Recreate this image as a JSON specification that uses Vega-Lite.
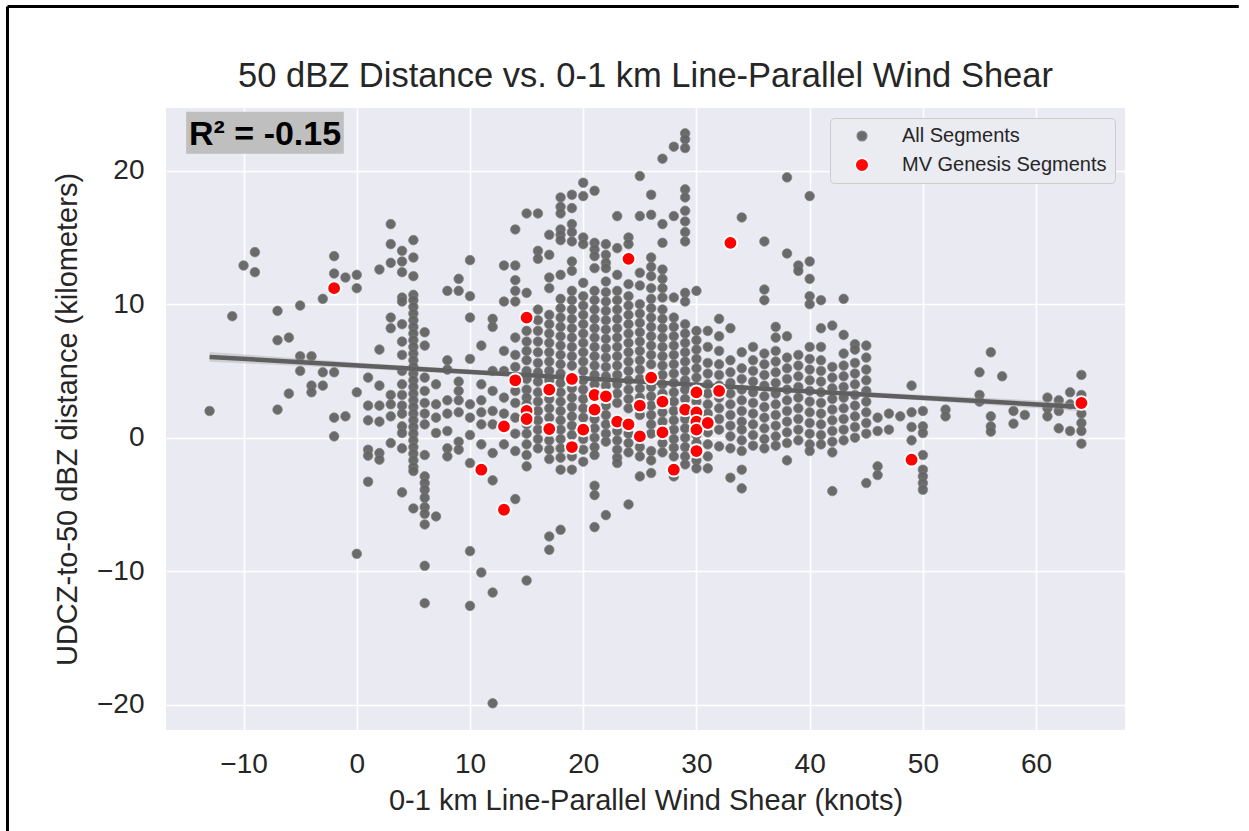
{
  "$schema": "https://vega.github.io/schema/vega-lite/v6.json",
  "width": 959,
  "height": 622,
  "autosize": {"type": "none"},
  "padding": {"left": 166, "top": 108, "right": 124, "bottom": 101},
  "background": "white",
  "title": {
    "text": "50 dBZ Distance vs. 0-1 km Line-Parallel Wind Shear",
    "font": "Liberation Sans",
    "fontSize": 34.5,
    "fontWeight": "normal",
    "color": "#262626",
    "anchor": "middle",
    "frame": "group",
    "baseline": "alphabetic",
    "offset": -116
  },
  "datasets": {
    "all": [
      {"shear":-13,"dist":2.0},
      {"shear":-11,"dist":9.1},
      {"shear":-10,"dist":12.9},
      {"shear":-9,"dist":13.9},{"shear":-9,"dist":12.4},
      {"shear":-7,"dist":9.5},{"shear":-7,"dist":7.3},{"shear":-7,"dist":2.1},
      {"shear":-6,"dist":7.5},{"shear":-6,"dist":3.3},
      {"shear":-5,"dist":9.9},{"shear":-5,"dist":6.1},{"shear":-5,"dist":5.0},
      {"shear":-4,"dist":6.1},{"shear":-4,"dist":3.9},{"shear":-4,"dist":3.4},
      {"shear":-3,"dist":10.4},{"shear":-3,"dist":4.9},{"shear":-3,"dist":3.9},
      {"shear":-2,"dist":13.6},{"shear":-2,"dist":12.3},{"shear":-2,"dist":4.9},{"shear":-2,"dist":1.5},{"shear":-2,"dist":0.1},
      {"shear":-1,"dist":12.0},{"shear":-1,"dist":1.6},
      {"shear":0,"dist":12.2},{"shear":0,"dist":11.2},{"shear":0,"dist":3.4},{"shear":0,"dist":-8.7},
      {"shear":1,"dist":4.5},{"shear":1,"dist":2.4},{"shear":1,"dist":1.3},{"shear":1,"dist":-0.9},{"shear":1,"dist":-1.35},{"shear":1,"dist":-3.3},
      {"shear":2,"dist":12.6},{"shear":2,"dist":6.6},{"shear":2,"dist":3.9},{"shear":2,"dist":2.4},{"shear":2,"dist":1.2},{"shear":2,"dist":-1.15},{"shear":2,"dist":-1.65},
      {"shear":3,"dist":16.0},{"shear":3,"dist":14.5},{"shear":3,"dist":13.1},{"shear":3,"dist":9.0},{"shear":3,"dist":8.2},{"shear":3,"dist":3.2},{"shear":3,"dist":2.5},{"shear":3,"dist":1.6},{"shear":3,"dist":-0.4},
      {"shear":4,"dist":14.0},{"shear":4,"dist":13.2},{"shear":4,"dist":12.4},{"shear":4,"dist":10.5},{"shear":4,"dist":10.2},{"shear":4,"dist":8.5},{"shear":4,"dist":7.2},{"shear":4,"dist":6.2},{"shear":4,"dist":5.0},{"shear":4,"dist":4.0},{"shear":4,"dist":3.2},{"shear":4,"dist":2.4},{"shear":4,"dist":1.8},{"shear":4,"dist":0.85},{"shear":4,"dist":0.35},{"shear":4,"dist":-0.8},{"shear":4,"dist":-4.1},
      {"shear":5,"dist":14.8},{"shear":5,"dist":13.5},{"shear":5,"dist":12.1},{"shear":5,"dist":10.7},{"shear":5,"dist":10.3},{"shear":5,"dist":9.8},{"shear":5,"dist":9.3},{"shear":5,"dist":8.8},{"shear":5,"dist":8.3},{"shear":5,"dist":7.8},{"shear":5,"dist":7.3},{"shear":5,"dist":6.8},{"shear":5,"dist":6.3},{"shear":5,"dist":5.8},{"shear":5,"dist":5.3},{"shear":5,"dist":4.8},{"shear":5,"dist":4.3},{"shear":5,"dist":3.8},{"shear":5,"dist":3.3},{"shear":5,"dist":2.8},{"shear":5,"dist":2.3},{"shear":5,"dist":1.8},{"shear":5,"dist":1.3},{"shear":5,"dist":0.8},{"shear":5,"dist":0.3},{"shear":5,"dist":-0.2},{"shear":5,"dist":-0.7},{"shear":5,"dist":-1.2},{"shear":5,"dist":-1.7},{"shear":5,"dist":-2.2},{"shear":5,"dist":-2.5},{"shear":5,"dist":-5.3},
      {"shear":6,"dist":7.9},{"shear":6,"dist":6.9},{"shear":6,"dist":4.5},{"shear":6,"dist":3.5},{"shear":6,"dist":2.6},{"shear":6,"dist":1.8},{"shear":6,"dist":1.0},{"shear":6,"dist":-1.3},{"shear":6,"dist":-2.9},{"shear":6,"dist":-3.4},{"shear":6,"dist":-3.9},{"shear":6,"dist":-4.5},{"shear":6,"dist":-5.2},{"shear":6,"dist":-5.7},{"shear":6,"dist":-6.5},{"shear":6,"dist":-9.6},{"shear":6,"dist":-12.4},
      {"shear":7,"dist":4.0},{"shear":7,"dist":2.5},{"shear":7,"dist":1.5},{"shear":7,"dist":0.35},{"shear":7,"dist":-5.9},
      {"shear":8,"dist":11.0},{"shear":8,"dist":5.8},{"shear":8,"dist":5.1},{"shear":8,"dist":2.8},{"shear":8,"dist":1.8},{"shear":8,"dist":0.5},{"shear":8,"dist":-0.8},{"shear":8,"dist":-1.4},
      {"shear":9,"dist":11.9},{"shear":9,"dist":11.0},{"shear":9,"dist":4.2},{"shear":9,"dist":3.5},{"shear":9,"dist":2.8},{"shear":9,"dist":1.9},{"shear":9,"dist":-0.3},{"shear":9,"dist":-0.9},
      {"shear":10,"dist":13.3},{"shear":10,"dist":10.6},{"shear":10,"dist":9.0},{"shear":10,"dist":5.9},{"shear":10,"dist":2.5},{"shear":10,"dist":1.5},{"shear":10,"dist":0.2},{"shear":10,"dist":-1.9},{"shear":10,"dist":-8.5},{"shear":10,"dist":-12.6},
      {"shear":11,"dist":6.9},{"shear":11,"dist":4.0},{"shear":11,"dist":2.8},{"shear":11,"dist":1.9},{"shear":11,"dist":1.0},{"shear":11,"dist":-0.5},{"shear":11,"dist":-10.1},
      {"shear":12,"dist":8.9},{"shear":12,"dist":8.3},{"shear":12,"dist":5.0},{"shear":12,"dist":3.5},{"shear":12,"dist":2.0},{"shear":12,"dist":1.0},{"shear":12,"dist":-1.15},{"shear":12,"dist":-3.2},{"shear":12,"dist":-11.6},{"shear":12,"dist":-19.9},
      {"shear":13,"dist":12.9},{"shear":13,"dist":10.2},{"shear":13,"dist":6.5},{"shear":13,"dist":5.0},{"shear":13,"dist":3.0},{"shear":13,"dist":1.8},{"shear":13,"dist":-0.5},
      {"shear":14,"dist":15.6},{"shear":14,"dist":12.9},{"shear":14,"dist":11.8},{"shear":14,"dist":11.0},{"shear":14,"dist":10.2},{"shear":14,"dist":7.5},{"shear":14,"dist":6.2},{"shear":14,"dist":5.3},{"shear":14,"dist":3.5},{"shear":14,"dist":2.6},{"shear":14,"dist":1.5},{"shear":14,"dist":0.3},{"shear":14,"dist":-1.0},{"shear":14,"dist":-4.6},
      {"shear":15,"dist":16.8},{"shear":15,"dist":10.85},{"shear":15,"dist":8.0},{"shear":15,"dist":7.2},{"shear":15,"dist":6.5},{"shear":15,"dist":5.8},{"shear":15,"dist":5.0},{"shear":15,"dist":4.4},{"shear":15,"dist":3.6},{"shear":15,"dist":3.0},{"shear":15,"dist":2.5},{"shear":15,"dist":1.0},{"shear":15,"dist":0.3},{"shear":15,"dist":-0.5},{"shear":15,"dist":-1.3},{"shear":15,"dist":-2.15},{"shear":15,"dist":-10.7},
      {"shear":16,"dist":16.8},{"shear":16,"dist":14.0},{"shear":16,"dist":13.4},{"shear":16,"dist":9.6},{"shear":16,"dist":8.8},{"shear":16,"dist":8.0},{"shear":16,"dist":7.2},{"shear":16,"dist":6.4},{"shear":16,"dist":5.6},{"shear":16,"dist":4.9},{"shear":16,"dist":4.2},{"shear":16,"dist":3.4},{"shear":16,"dist":2.7},{"shear":16,"dist":2.0},{"shear":16,"dist":1.3},{"shear":16,"dist":0.6},{"shear":16,"dist":-0.1},{"shear":16,"dist":-0.8},
      {"shear":17,"dist":15.2},{"shear":17,"dist":13.7},{"shear":17,"dist":12.0},{"shear":17,"dist":11.2},{"shear":17,"dist":9.2},{"shear":17,"dist":8.5},{"shear":17,"dist":7.8},{"shear":17,"dist":7.1},{"shear":17,"dist":6.4},{"shear":17,"dist":5.7},{"shear":17,"dist":5.0},{"shear":17,"dist":4.3},{"shear":17,"dist":2.9},{"shear":17,"dist":2.2},{"shear":17,"dist":1.5},{"shear":17,"dist":-0.2},{"shear":17,"dist":-0.9},{"shear":17,"dist":-1.6},{"shear":17,"dist":-7.4},{"shear":17,"dist":-8.4},
      {"shear":18,"dist":18.0},{"shear":18,"dist":17.3},{"shear":18,"dist":16.8},{"shear":18,"dist":15.6},{"shear":18,"dist":15.2},{"shear":18,"dist":14.8},{"shear":18,"dist":12.2},{"shear":18,"dist":10.4},{"shear":18,"dist":9.7},{"shear":18,"dist":9.0},{"shear":18,"dist":8.3},{"shear":18,"dist":7.6},{"shear":18,"dist":6.9},{"shear":18,"dist":6.2},{"shear":18,"dist":5.5},{"shear":18,"dist":4.8},{"shear":18,"dist":4.1},{"shear":18,"dist":3.4},{"shear":18,"dist":2.7},{"shear":18,"dist":2.0},{"shear":18,"dist":1.3},{"shear":18,"dist":0.6},{"shear":18,"dist":-0.1},{"shear":18,"dist":-0.8},{"shear":18,"dist":-1.5},{"shear":18,"dist":-2.4},{"shear":18,"dist":-6.9},
      {"shear":19,"dist":18.2},{"shear":19,"dist":17.2},{"shear":19,"dist":16.0},{"shear":19,"dist":15.4},{"shear":19,"dist":14.7},{"shear":19,"dist":13.2},{"shear":19,"dist":12.5},{"shear":19,"dist":11.0},{"shear":19,"dist":10.3},{"shear":19,"dist":9.6},{"shear":19,"dist":8.9},{"shear":19,"dist":8.2},{"shear":19,"dist":7.5},{"shear":19,"dist":6.8},{"shear":19,"dist":6.1},{"shear":19,"dist":5.4},{"shear":19,"dist":3.7},{"shear":19,"dist":3.0},{"shear":19,"dist":2.3},{"shear":19,"dist":1.6},{"shear":19,"dist":0.9},{"shear":19,"dist":0.2},{"shear":19,"dist":-1.4},{"shear":19,"dist":-2.4},
      {"shear":20,"dist":19.1},{"shear":20,"dist":18.1},{"shear":20,"dist":15.0},{"shear":20,"dist":14.5},{"shear":20,"dist":11.6},{"shear":20,"dist":10.6},{"shear":20,"dist":9.9},{"shear":20,"dist":9.2},{"shear":20,"dist":8.5},{"shear":20,"dist":7.8},{"shear":20,"dist":7.1},{"shear":20,"dist":6.4},{"shear":20,"dist":5.7},{"shear":20,"dist":5.0},{"shear":20,"dist":4.3},{"shear":20,"dist":3.6},{"shear":20,"dist":2.9},{"shear":20,"dist":2.2},{"shear":20,"dist":1.5},{"shear":20,"dist":-0.1},{"shear":20,"dist":-0.9},{"shear":20,"dist":-1.8},
      {"shear":21,"dist":18.5},{"shear":21,"dist":14.6},{"shear":21,"dist":14.1},{"shear":21,"dist":13.6},{"shear":21,"dist":12.7},{"shear":21,"dist":11.0},{"shear":21,"dist":10.3},{"shear":21,"dist":9.6},{"shear":21,"dist":8.9},{"shear":21,"dist":8.2},{"shear":21,"dist":7.5},{"shear":21,"dist":6.8},{"shear":21,"dist":6.1},{"shear":21,"dist":5.4},{"shear":21,"dist":4.7},{"shear":21,"dist":4.0},{"shear":21,"dist":1.4},{"shear":21,"dist":0.7},{"shear":21,"dist":0.0},{"shear":21,"dist":-0.7},{"shear":21,"dist":-1.3},{"shear":21,"dist":-3.6},{"shear":21,"dist":-4.3},{"shear":21,"dist":-6.7},
      {"shear":22,"dist":14.5},{"shear":22,"dist":13.7},{"shear":22,"dist":13.1},{"shear":22,"dist":12.7},{"shear":22,"dist":11.7},{"shear":22,"dist":10.9},{"shear":22,"dist":10.2},{"shear":22,"dist":9.5},{"shear":22,"dist":8.8},{"shear":22,"dist":8.1},{"shear":22,"dist":7.4},{"shear":22,"dist":6.7},{"shear":22,"dist":6.0},{"shear":22,"dist":5.3},{"shear":22,"dist":4.6},{"shear":22,"dist":3.9},{"shear":22,"dist":2.4},{"shear":22,"dist":1.7},{"shear":22,"dist":1.0},{"shear":22,"dist":0.3},{"shear":22,"dist":-0.3},{"shear":22,"dist":-5.8},
      {"shear":23,"dist":16.6},{"shear":23,"dist":14.2},{"shear":23,"dist":12.2},{"shear":23,"dist":11.0},{"shear":23,"dist":10.3},{"shear":23,"dist":9.6},{"shear":23,"dist":8.9},{"shear":23,"dist":8.2},{"shear":23,"dist":7.5},{"shear":23,"dist":6.8},{"shear":23,"dist":6.1},{"shear":23,"dist":5.4},{"shear":23,"dist":4.7},{"shear":23,"dist":4.0},{"shear":23,"dist":3.3},{"shear":23,"dist":2.6},{"shear":23,"dist":0.5},{"shear":23,"dist":-0.2},{"shear":23,"dist":-0.9},{"shear":23,"dist":-1.5},{"shear":23,"dist":-1.9},
      {"shear":24,"dist":15.0},{"shear":24,"dist":14.5},{"shear":24,"dist":11.5},{"shear":24,"dist":10.6},{"shear":24,"dist":9.9},{"shear":24,"dist":9.2},{"shear":24,"dist":8.5},{"shear":24,"dist":7.8},{"shear":24,"dist":7.1},{"shear":24,"dist":6.4},{"shear":24,"dist":5.7},{"shear":24,"dist":5.0},{"shear":24,"dist":4.3},{"shear":24,"dist":3.6},{"shear":24,"dist":2.9},{"shear":24,"dist":2.2},{"shear":24,"dist":0.3},{"shear":24,"dist":-0.4},{"shear":24,"dist":-1.1},{"shear":24,"dist":-5.0},
      {"shear":25,"dist":19.6},{"shear":25,"dist":16.6},{"shear":25,"dist":12.35},{"shear":25,"dist":11.4},{"shear":25,"dist":10.0},{"shear":25,"dist":9.3},{"shear":25,"dist":8.6},{"shear":25,"dist":7.9},{"shear":25,"dist":7.2},{"shear":25,"dist":6.5},{"shear":25,"dist":5.8},{"shear":25,"dist":5.1},{"shear":25,"dist":4.4},{"shear":25,"dist":3.7},{"shear":25,"dist":3.0},{"shear":25,"dist":1.7},{"shear":25,"dist":-0.7},{"shear":25,"dist":-1.4},{"shear":25,"dist":-2.9},
      {"shear":26,"dist":18.2},{"shear":26,"dist":16.7},{"shear":26,"dist":13.5},{"shear":26,"dist":12.8},{"shear":26,"dist":12.1},{"shear":26,"dist":11.2},{"shear":26,"dist":10.4},{"shear":26,"dist":9.7},{"shear":26,"dist":9.0},{"shear":26,"dist":8.3},{"shear":26,"dist":7.6},{"shear":26,"dist":6.9},{"shear":26,"dist":6.2},{"shear":26,"dist":5.5},{"shear":26,"dist":3.8},{"shear":26,"dist":3.1},{"shear":26,"dist":2.4},{"shear":26,"dist":1.7},{"shear":26,"dist":1.0},{"shear":26,"dist":0.3},{"shear":26,"dist":-1.0},{"shear":26,"dist":-1.7},{"shear":26,"dist":-2.65},
      {"shear":27,"dist":20.9},{"shear":27,"dist":16.0},{"shear":27,"dist":14.6},{"shear":27,"dist":12.6},{"shear":27,"dist":11.9},{"shear":27,"dist":11.2},{"shear":27,"dist":10.5},{"shear":27,"dist":9.6},{"shear":27,"dist":8.9},{"shear":27,"dist":8.2},{"shear":27,"dist":7.5},{"shear":27,"dist":6.8},{"shear":27,"dist":6.1},{"shear":27,"dist":5.4},{"shear":27,"dist":4.7},{"shear":27,"dist":4.0},{"shear":27,"dist":3.3},{"shear":27,"dist":1.9},{"shear":27,"dist":1.2},{"shear":27,"dist":-0.4},{"shear":27,"dist":-1.1},
      {"shear":28,"dist":21.8},{"shear":28,"dist":16.6},{"shear":28,"dist":10.5},{"shear":28,"dist":9.0},{"shear":28,"dist":8.3},{"shear":28,"dist":7.6},{"shear":28,"dist":6.9},{"shear":28,"dist":6.2},{"shear":28,"dist":5.5},{"shear":28,"dist":4.8},{"shear":28,"dist":4.1},{"shear":28,"dist":3.4},{"shear":28,"dist":2.7},{"shear":28,"dist":2.0},{"shear":28,"dist":1.3},{"shear":28,"dist":0.6},{"shear":28,"dist":-0.1},{"shear":28,"dist":-0.75},{"shear":28,"dist":-1.4},{"shear":28,"dist":-2.9},
      {"shear":29,"dist":22.8},{"shear":29,"dist":22.35},{"shear":29,"dist":21.7},{"shear":29,"dist":18.6},{"shear":29,"dist":18.0},{"shear":29,"dist":17.0},{"shear":29,"dist":16.2},{"shear":29,"dist":15.4},{"shear":29,"dist":14.7},{"shear":29,"dist":10.85},{"shear":29,"dist":10.2},{"shear":29,"dist":8.5},{"shear":29,"dist":7.8},{"shear":29,"dist":7.1},{"shear":29,"dist":6.4},{"shear":29,"dist":5.7},{"shear":29,"dist":5.0},{"shear":29,"dist":4.3},{"shear":29,"dist":3.6},{"shear":29,"dist":2.9},{"shear":29,"dist":1.4},{"shear":29,"dist":0.7},{"shear":29,"dist":0.0},{"shear":29,"dist":-0.7},{"shear":29,"dist":-1.4},{"shear":29,"dist":-2.0},
      {"shear":30,"dist":11.0},{"shear":30,"dist":8.0},{"shear":30,"dist":7.3},{"shear":30,"dist":6.6},{"shear":30,"dist":5.9},{"shear":30,"dist":5.2},{"shear":30,"dist":4.5},{"shear":30,"dist":3.8},{"shear":30,"dist":2.7},{"shear":30,"dist":1.5},{"shear":30,"dist":0.2},{"shear":30,"dist":-0.4},{"shear":30,"dist":-1.7},{"shear":30,"dist":-2.3},
      {"shear":31,"dist":8.0},{"shear":31,"dist":6.8},{"shear":31,"dist":5.6},{"shear":31,"dist":4.8},{"shear":31,"dist":4.0},{"shear":31,"dist":3.3},{"shear":31,"dist":2.5},{"shear":31,"dist":1.8},{"shear":31,"dist":0.4},{"shear":31,"dist":-0.5},{"shear":31,"dist":-1.4},{"shear":31,"dist":-2.3},
      {"shear":32,"dist":8.9},{"shear":32,"dist":7.6},{"shear":32,"dist":6.5},{"shear":32,"dist":5.5},{"shear":32,"dist":4.7},{"shear":32,"dist":3.9},{"shear":32,"dist":3.0},{"shear":32,"dist":2.2},{"shear":32,"dist":1.4},{"shear":32,"dist":0.6},{"shear":32,"dist":-0.65},
      {"shear":33,"dist":8.2},{"shear":33,"dist":5.8},{"shear":33,"dist":4.9},{"shear":33,"dist":4.1},{"shear":33,"dist":3.3},{"shear":33,"dist":2.5},{"shear":33,"dist":1.7},{"shear":33,"dist":0.9},{"shear":33,"dist":0.1},{"shear":33,"dist":-0.8},{"shear":33,"dist":-3.0},
      {"shear":34,"dist":16.5},{"shear":34,"dist":6.4},{"shear":34,"dist":5.2},{"shear":34,"dist":4.4},{"shear":34,"dist":3.6},{"shear":34,"dist":2.8},{"shear":34,"dist":2.0},{"shear":34,"dist":1.2},{"shear":34,"dist":0.6},{"shear":34,"dist":-0.2},{"shear":34,"dist":-1.0},{"shear":34,"dist":-2.4},{"shear":34,"dist":-3.8},
      {"shear":35,"dist":6.8},{"shear":35,"dist":5.8},{"shear":35,"dist":5.0},{"shear":35,"dist":4.2},{"shear":35,"dist":3.4},{"shear":35,"dist":2.6},{"shear":35,"dist":1.8},{"shear":35,"dist":1.0},{"shear":35,"dist":0.2},{"shear":35,"dist":-0.6},
      {"shear":36,"dist":14.7},{"shear":36,"dist":11.1},{"shear":36,"dist":10.3},{"shear":36,"dist":6.3},{"shear":36,"dist":5.5},{"shear":36,"dist":4.7},{"shear":36,"dist":3.9},{"shear":36,"dist":3.1},{"shear":36,"dist":2.3},{"shear":36,"dist":1.5},{"shear":36,"dist":0.7},{"shear":36,"dist":-0.1},{"shear":36,"dist":-0.8},
      {"shear":37,"dist":8.3},{"shear":37,"dist":7.5},{"shear":37,"dist":6.5},{"shear":37,"dist":5.7},{"shear":37,"dist":4.9},{"shear":37,"dist":4.1},{"shear":37,"dist":3.3},{"shear":37,"dist":2.5},{"shear":37,"dist":1.7},{"shear":37,"dist":0.9},{"shear":37,"dist":0.1},{"shear":37,"dist":-0.6},
      {"shear":38,"dist":19.5},{"shear":38,"dist":13.8},{"shear":38,"dist":7.6},{"shear":38,"dist":6.0},{"shear":38,"dist":5.2},{"shear":38,"dist":4.4},{"shear":38,"dist":3.6},{"shear":38,"dist":2.8},{"shear":38,"dist":2.0},{"shear":38,"dist":1.2},{"shear":38,"dist":0.4},{"shear":38,"dist":-0.4},{"shear":38,"dist":-1.7},
      {"shear":39,"dist":12.9},{"shear":39,"dist":12.5},{"shear":39,"dist":6.2},{"shear":39,"dist":5.4},{"shear":39,"dist":4.6},{"shear":39,"dist":3.8},{"shear":39,"dist":3.0},{"shear":39,"dist":2.2},{"shear":39,"dist":1.4},{"shear":39,"dist":0.6},{"shear":39,"dist":-0.2},
      {"shear":40,"dist":18.1},{"shear":40,"dist":13.2},{"shear":40,"dist":11.9},{"shear":40,"dist":10.6},{"shear":40,"dist":10.0},{"shear":40,"dist":6.8},{"shear":40,"dist":5.9},{"shear":40,"dist":5.1},{"shear":40,"dist":4.3},{"shear":40,"dist":3.5},{"shear":40,"dist":2.7},{"shear":40,"dist":1.9},{"shear":40,"dist":1.1},{"shear":40,"dist":0.3},{"shear":40,"dist":-0.5},{"shear":40,"dist":-1.0},
      {"shear":41,"dist":10.3},{"shear":41,"dist":8.2},{"shear":41,"dist":6.8},{"shear":41,"dist":5.8},{"shear":41,"dist":5.0},{"shear":41,"dist":4.2},{"shear":41,"dist":3.4},{"shear":41,"dist":2.6},{"shear":41,"dist":1.8},{"shear":41,"dist":1.0},{"shear":41,"dist":0.2},{"shear":41,"dist":-0.5},
      {"shear":42,"dist":8.4},{"shear":42,"dist":5.3},{"shear":42,"dist":4.5},{"shear":42,"dist":3.7},{"shear":42,"dist":2.9},{"shear":42,"dist":2.1},{"shear":42,"dist":1.3},{"shear":42,"dist":0.5},{"shear":42,"dist":-0.3},{"shear":42,"dist":-1.1},{"shear":42,"dist":-4.0},
      {"shear":43,"dist":10.4},{"shear":43,"dist":7.7},{"shear":43,"dist":6.3},{"shear":43,"dist":5.4},{"shear":43,"dist":4.6},{"shear":43,"dist":3.8},{"shear":43,"dist":3.0},{"shear":43,"dist":2.2},{"shear":43,"dist":1.4},{"shear":43,"dist":0.6},{"shear":43,"dist":-0.2},
      {"shear":44,"dist":7.0},{"shear":44,"dist":6.6},{"shear":44,"dist":5.6},{"shear":44,"dist":4.8},{"shear":44,"dist":4.0},{"shear":44,"dist":3.2},{"shear":44,"dist":2.4},{"shear":44,"dist":1.6},{"shear":44,"dist":0.8},{"shear":44,"dist":0.0},
      {"shear":45,"dist":6.9},{"shear":45,"dist":6.0},{"shear":45,"dist":5.1},{"shear":45,"dist":4.3},{"shear":45,"dist":3.5},{"shear":45,"dist":2.7},{"shear":45,"dist":1.9},{"shear":45,"dist":1.1},{"shear":45,"dist":0.3},{"shear":45,"dist":-3.4},
      {"shear":46,"dist":1.5},{"shear":46,"dist":0.5},{"shear":46,"dist":-2.15},{"shear":46,"dist":-2.8},
      {"shear":47,"dist":1.8},{"shear":47,"dist":0.6},
      {"shear":48,"dist":1.6},
      {"shear":49,"dist":3.9},{"shear":49,"dist":1.9},{"shear":49,"dist":0.8},{"shear":49,"dist":-0.2},
      {"shear":50,"dist":2.0},{"shear":50,"dist":0.85},{"shear":50,"dist":0.35},{"shear":50,"dist":-1.3},{"shear":50,"dist":-2.4},{"shear":50,"dist":-2.9},{"shear":50,"dist":-3.4},{"shear":50,"dist":-3.9},
      {"shear":52,"dist":2.1},{"shear":52,"dist":1.6},
      {"shear":55,"dist":4.9},{"shear":55,"dist":3.2},{"shear":55,"dist":2.7},
      {"shear":56,"dist":6.4},{"shear":56,"dist":1.6},{"shear":56,"dist":0.85},{"shear":56,"dist":0.45},
      {"shear":57,"dist":4.6},
      {"shear":58,"dist":2.0},{"shear":58,"dist":1.05},
      {"shear":59,"dist":1.7},
      {"shear":61,"dist":3.0},{"shear":61,"dist":2.2},{"shear":61,"dist":1.6},
      {"shear":62,"dist":2.8},{"shear":62,"dist":2.0},{"shear":62,"dist":0.7},
      {"shear":63,"dist":3.4},{"shear":63,"dist":2.5},{"shear":63,"dist":0.5},
      {"shear":64,"dist":4.7},{"shear":64,"dist":3.2},{"shear":64,"dist":1.8},{"shear":64,"dist":1.1},{"shear":64,"dist":0.5},{"shear":64,"dist":-0.45}
    ],
    "mv": [
      {"shear":-2,"dist":11.2},{"shear":11,"dist":-2.4},{"shear":13,"dist":0.85},{"shear":13,"dist":-5.4},
      {"shear":14,"dist":4.3},{"shear":15,"dist":9.0},{"shear":15,"dist":2.0},{"shear":15,"dist":1.4},
      {"shear":17,"dist":3.6},{"shear":17,"dist":0.65},{"shear":19,"dist":4.4},{"shear":19,"dist":-0.7},
      {"shear":20,"dist":0.6},{"shear":21,"dist":3.2},{"shear":21,"dist":2.1},{"shear":22,"dist":3.1},
      {"shear":23,"dist":1.2},{"shear":24,"dist":13.4},{"shear":24,"dist":1.0},{"shear":25,"dist":2.4},
      {"shear":25,"dist":0.1},{"shear":26,"dist":4.5},{"shear":27,"dist":2.7},{"shear":27,"dist":0.4},
      {"shear":28,"dist":-2.4},{"shear":29,"dist":2.1},{"shear":30,"dist":3.4},{"shear":30,"dist":1.9},
      {"shear":30,"dist":1.2},{"shear":30,"dist":0.6},{"shear":30,"dist":-1.0},{"shear":31,"dist":1.1},
      {"shear":32,"dist":3.5},{"shear":33,"dist":14.6},{"shear":49,"dist":-1.65},{"shear":64,"dist":2.6}
    ],
    "fit": [
      {"shear":-13,"dist":6.05},{"shear":64,"dist":2.3}
    ],
    "band": [
      {"shear":-13,"lo":5.68,"hi":6.42},
      {"shear":0,"lo":5.19,"hi":5.63},
      {"shear":25,"lo":4.08,"hi":4.32},
      {"shear":45,"lo":3.07,"hi":3.43},
      {"shear":64,"lo":1.98,"hi":2.62}
    ]
  },
  "layer": [
    {
      "data": {"name": "all"},
      "mark": {"type": "point", "filled": true, "opacity": 0.95, "strokeWidth": 0.7},
      "encoding": {
        "x": {
          "field": "shear", "type": "quantitative",
          "title": "0-1 km Line-Parallel Wind Shear (knots)",
          "scale": {"domain": [-16.85, 67.85], "nice": false, "zero": false},
          "axis": {"values": [-10, 0, 10, 20, 30, 40, 50, 60]}
        },
        "y": {
          "field": "dist", "type": "quantitative",
          "title": "UDCZ-to-50 dBZ distance (kilometers)",
          "scale": {"domain": [-21.9, 24.7], "nice": false, "zero": false},
          "axis": {"values": [-20, -10, 0, 10, 20]}
        },
        "color": {"datum": "All Segments", "type": "nominal", "scale": {"domain": ["All Segments", "MV Genesis Segments"], "range": ["#646464", "#ff0000"]}, "legend": {"title": null}},
        "size": {"datum": "All Segments", "type": "nominal", "scale": {"domain": ["All Segments", "MV Genesis Segments"], "range": [92, 185]}, "legend": {"title": null}},
        "stroke": {"datum": "All Segments", "type": "nominal", "scale": {"domain": ["All Segments", "MV Genesis Segments"], "range": ["#7c7c7c", "#ffffff"]}, "legend": {"title": null}}
      }
    },
    {
      "data": {"name": "band"},
      "mark": {"type": "area", "color": "#9a9a9a", "opacity": 0.35},
      "encoding": {
        "x": {"field": "shear", "type": "quantitative", "title": "0-1 km Line-Parallel Wind Shear (knots)"},
        "y": {"field": "lo", "type": "quantitative", "title": "UDCZ-to-50 dBZ distance (kilometers)"},
        "y2": {"field": "hi"}
      }
    },
    {
      "data": {"name": "fit"},
      "mark": {"type": "line", "color": "#5f5f5f", "strokeWidth": 4.5},
      "encoding": {
        "x": {"field": "shear", "type": "quantitative", "title": "0-1 km Line-Parallel Wind Shear (knots)"},
        "y": {"field": "dist", "type": "quantitative", "title": "UDCZ-to-50 dBZ distance (kilometers)"}
      }
    },
    {
      "data": {"name": "mv"},
      "mark": {"type": "point", "filled": true, "opacity": 1, "strokeWidth": 1.8},
      "encoding": {
        "x": {"field": "shear", "type": "quantitative", "title": "0-1 km Line-Parallel Wind Shear (knots)"},
        "y": {"field": "dist", "type": "quantitative", "title": "UDCZ-to-50 dBZ distance (kilometers)"},
        "color": {"datum": "MV Genesis Segments", "type": "nominal", "scale": {"domain": ["All Segments", "MV Genesis Segments"], "range": ["#646464", "#ff0000"]}, "legend": {"title": null}},
        "size": {"datum": "MV Genesis Segments", "type": "nominal", "scale": {"domain": ["All Segments", "MV Genesis Segments"], "range": [92, 185]}, "legend": {"title": null}},
        "stroke": {"datum": "MV Genesis Segments", "type": "nominal", "scale": {"domain": ["All Segments", "MV Genesis Segments"], "range": ["#7c7c7c", "#ffffff"]}, "legend": {"title": null}}
      }
    },
    {
      "data": {"values": [{}]},
      "mark": {"type": "rect", "color": "#bfbfbf"},
      "encoding": {
        "x": {"datum": -15.07, "type": "quantitative", "title": "0-1 km Line-Parallel Wind Shear (knots)"},
        "x2": {"datum": -1.15},
        "y": {"datum": 24.42, "type": "quantitative", "title": "UDCZ-to-50 dBZ distance (kilometers)"},
        "y2": {"datum": 21.27}
      }
    },
    {
      "data": {"values": [{}]},
      "mark": {"type": "text", "text": "R² = -0.15", "font": "Liberation Sans", "fontSize": 34, "fontWeight": "bold", "color": "#000000", "align": "center", "baseline": "alphabetic"},
      "encoding": {
        "x": {"datum": -8.1, "type": "quantitative", "title": "0-1 km Line-Parallel Wind Shear (knots)"},
        "y": {"datum": 21.95, "type": "quantitative", "title": "UDCZ-to-50 dBZ distance (kilometers)"}
      }
    },
    {
      "data": {"values": [{}]},
      "mark": {"type": "rule", "color": "#000000", "strokeWidth": 3},
      "encoding": {
        "x": {"datum": -30.85, "type": "quantitative", "title": "0-1 km Line-Parallel Wind Shear (knots)"},
        "y": {"datum": 32.3, "type": "quantitative", "title": "UDCZ-to-50 dBZ distance (kilometers)"},
        "y2": {"datum": -32}
      }
    },
    {
      "data": {"values": [{}]},
      "mark": {"type": "rule", "color": "#000000", "strokeWidth": 3},
      "encoding": {
        "x": {"datum": -30.85, "type": "quantitative", "title": "0-1 km Line-Parallel Wind Shear (knots)"},
        "x2": {"datum": 77.9},
        "y": {"datum": 32.3, "type": "quantitative", "title": "UDCZ-to-50 dBZ distance (kilometers)"}
      }
    }
  ],
  "config": {
    "view": {"fill": "#EAEAF2", "stroke": null},
    "font": "Liberation Sans",
    "axis": {
      "domain": false,
      "ticks": false,
      "grid": true,
      "gridColor": "#ffffff",
      "gridWidth": 1.6,
      "labelFont": "Liberation Sans",
      "labelFontSize": 28,
      "labelColor": "#262626",
      "labelFlush": false,
      "labelOverlap": false,
      "titleFont": "Liberation Sans",
      "titleFontSize": 29,
      "titleFontWeight": "normal",
      "titleColor": "#262626"
    },
    "axisX": {"labelPadding": 20, "titlePadding": 8},
    "axisY": {"labelPadding": 22, "titlePadding": 14},
    "legend": {
      "orient": "top-right",
      "offset": 10,
      "padding": 8,
      "fillColor": "#EBEBF2",
      "strokeColor": "#cccccc",
      "cornerRadius": 4,
      "labelFont": "Liberation Sans",
      "labelFontSize": 20,
      "labelColor": "#262626",
      "labelOffset": 30,
      "labelLimit": 400,
      "symbolOffset": 14,
      "symbolType": "circle",
      "symbolStrokeWidth": 1.5,
      "rowPadding": 9
    }
  }
}
